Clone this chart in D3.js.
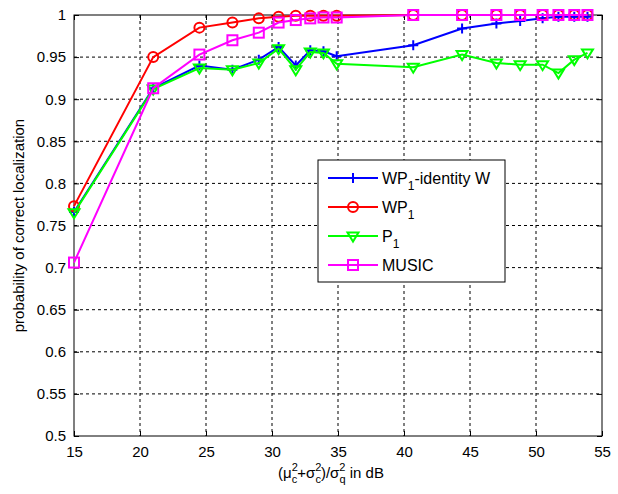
<!DOCTYPE html>
<html>
<head>
<meta charset="utf-8">
<script src="https://cdn.jsdelivr.net/npm/d3@7"></script>
<style>
  body { margin: 0; background: #fff; }
  text { font-family: "Liberation Sans", Arial, sans-serif; }
</style>
</head>
<body>
<script>
'use strict';

// SNR in dB (x axis) shared by all curves
var snr = [15, 21, 24.5, 27, 29, 30.5, 31.8, 32.9, 33.9, 34.9, 40.7, 44.4, 47, 48.8, 50.5, 51.7, 52.9, 53.9];

var wpIdentity = [0.766, 0.913, 0.940, 0.935, 0.947, 0.962, 0.940, 0.958, 0.957, 0.951, 0.964, 0.984, 0.990, 0.993, 0.996, 0.998, 0.998, 0.998];
var wp1        = [0.773, 0.950, 0.985, 0.991, 0.996, 0.998, 0.999, 0.999, 0.999, 0.999, 1, 1, 1, 1, 1, 1, 1, 1];
var p1         = [0.765, 0.912, 0.937, 0.935, 0.943, 0.960, 0.935, 0.956, 0.955, 0.942, 0.938, 0.953, 0.943, 0.941, 0.941, 0.931, 0.947, 0.955];
var music      = [0.706, 0.913, 0.953, 0.970, 0.979, 0.991, 0.994, 0.996, 0.997, 0.997, 1, 1, 1, 1, 1, 1, 1, 1];

var xTicks = [15, 20, 25, 30, 35, 40, 45, 50, 55];
var yTicks = [0.5, 0.55, 0.6, 0.65, 0.7, 0.75, 0.8, 0.85, 0.9, 0.95, 1];

var seriesNames = ['WP1-identity W', 'WP1', 'P1', 'MUSIC'];

var series = [
    {name: seriesNames[0], values: wpIdentity, color: '#0000ff', marker: 'plus'},
    {name: seriesNames[1], values: wp1, color: '#ff0000', marker: 'circle'},
    {name: seriesNames[2], values: p1, color: '#00ff00', marker: 'triangle'},
    {name: seriesNames[3], values: music, color: '#ff00ff', marker: 'square'}
];

var width = 618, height = 494;
var margin = {top: 15, right: 16, bottom: 58, left: 74};
var plotW = width - margin.left - margin.right;
var plotH = height - margin.top - margin.bottom;

var svg = d3.select('body').append('svg')
    .attr('width', width)
    .attr('height', height);

var g = svg.append('g')
    .attr('transform', 'translate(' + margin.left + ',' + margin.top + ')');

var x = d3.scaleLinear().domain([15, 55]).range([0, plotW]);
var y = d3.scaleLinear().domain([0.5, 1]).range([plotH, 0]);

g.append('rect')
    .attr('width', plotW).attr('height', plotH)
    .attr('fill', '#fff');

// dotted grid
g.append('g').selectAll('line')
    .data(xTicks.slice(1, -1))
    .enter().append('line')
    .attr('x1', function (d) { return x(d); })
    .attr('x2', function (d) { return x(d); })
    .attr('y1', 0).attr('y2', plotH)
    .attr('stroke', '#000').attr('stroke-width', 1)
    .attr('stroke-dasharray', '3,3');

g.append('g').selectAll('line')
    .data(yTicks.slice(1, -1))
    .enter().append('line')
    .attr('y1', function (d) { return y(d); })
    .attr('y2', function (d) { return y(d); })
    .attr('x1', 0).attr('x2', plotW)
    .attr('stroke', '#000').attr('stroke-width', 1)
    .attr('stroke-dasharray', '3,3');

// axes, ticks pointing inward
var fmtY = function (d) { return String(+d.toFixed(2)); };

var xAxis = g.append('g')
    .attr('transform', 'translate(0,' + plotH + ')')
    .call(d3.axisBottom(x).tickValues(xTicks).tickSizeInner(-5).tickSizeOuter(0).tickPadding(10));
var xAxisTop = g.append('g')
    .call(d3.axisTop(x).tickValues(xTicks).tickSizeInner(-5).tickSizeOuter(0).tickFormat(''));
var yAxis = g.append('g')
    .call(d3.axisLeft(y).tickValues(yTicks).tickSizeInner(-5).tickSizeOuter(0).tickPadding(8).tickFormat(fmtY));
var yAxisRight = g.append('g')
    .attr('transform', 'translate(' + plotW + ',0)')
    .call(d3.axisRight(y).tickValues(yTicks).tickSizeInner(-5).tickSizeOuter(0).tickFormat(''));

[xAxis, xAxisTop, yAxis, yAxisRight].forEach(function (a) {
    a.select('.domain').remove();
    a.selectAll('line').attr('stroke', '#000');
    a.selectAll('text')
        .attr('fill', '#000')
        .attr('font-size', '15px')
        .style('font-family', '"Liberation Sans", Arial, sans-serif');
});

g.append('rect')
    .attr('width', plotW).attr('height', plotH)
    .attr('fill', 'none').attr('stroke', '#000').attr('stroke-width', 1);

// marker drawing
function drawMarker(sel, type, color) {
    if (type === 'plus') {
        sel.append('path').attr('d', 'M-5,0H5M0,-5V5');
    } else if (type === 'circle') {
        sel.append('circle').attr('r', 5);
    } else if (type === 'triangle') {
        sel.append('path').attr('d', 'M-5.5,-3.5L5.5,-3.5L0,5.5Z');
    } else if (type === 'square') {
        sel.append('rect').attr('x', -5).attr('y', -5).attr('width', 10).attr('height', 10);
    }
    sel.selectAll('*')
        .attr('fill', 'none')
        .attr('stroke', color)
        .attr('stroke-width', 2);
}

var line = d3.line()
    .x(function (d) { return x(d[0]); })
    .y(function (d) { return y(d[1]); });

series.forEach(function (s) {
    var pts = d3.zip(snr, s.values);
    g.append('path')
        .datum(pts)
        .attr('d', line)
        .attr('fill', 'none')
        .attr('stroke', s.color)
        .attr('stroke-width', 2);
    g.append('g').selectAll('g')
        .data(pts)
        .enter().append('g')
        .attr('transform', function (d) { return 'translate(' + x(d[0]) + ',' + y(d[1]) + ')'; })
        .each(function () { drawMarker(d3.select(this), s.marker, s.color); });
});

// legend
var legend = svg.append('g').attr('transform', 'translate(318,160)');
legend.append('rect')
    .attr('width', 187).attr('height', 122)
    .attr('fill', '#fff').attr('stroke', '#000').attr('stroke-width', 1);

var rows = legend.selectAll('.row')
    .data(series)
    .enter().append('g')
    .attr('class', 'row')
    .attr('transform', function (d, i) { return 'translate(0,' + (18 + i * 29) + ')'; });

rows.append('line')
    .attr('x1', 10).attr('x2', 60)
    .attr('stroke', function (d) { return d.color; })
    .attr('stroke-width', 2);
rows.append('g')
    .attr('transform', 'translate(35,0)')
    .each(function (d) { drawMarker(d3.select(this), d.marker, d.color); });

rows.append('text')
    .attr('x', 64).attr('y', 6)
    .attr('font-size', '16px')
    .attr('fill', '#000')
    .each(function (d) {
        var t = d3.select(this);
        var m = d.name.match(/^(W?P)1(.*)$/);
        if (m) {
            t.append('tspan').text(m[1]);
            t.append('tspan').attr('dy', 6).attr('font-size', '12px').text('1');
            if (m[2]) t.append('tspan').attr('dy', -6).text(m[2]);
        } else {
            t.text(d.name);
        }
    });

// y label
svg.append('text')
    .attr('transform', 'translate(24,' + (margin.top + plotH / 2) + ') rotate(-90)')
    .attr('text-anchor', 'middle')
    .attr('font-size', '15px')
    .attr('fill', '#000')
    .text('probability of correct localization');

// x label with stacked super/subscripts
var xl = svg.append('text')
    .attr('x', 278).attr('y', 478)
    .attr('font-size', '15px')
    .attr('fill', '#000');
var parts = [['(μ', 'c'], ['+σ', 'c'], [')/σ', 'q']];
parts.forEach(function (p, i) {
    xl.append('tspan').attr('dy', i === 0 ? 0 : -5).text(p[0]);
    xl.append('tspan').attr('dy', -7).attr('font-size', '11px').text('2');
    xl.append('tspan').attr('dx', -6).attr('dy', 12).attr('font-size', '11px').text(p[1]);
});
xl.append('tspan').attr('dy', -5).text(' in dB');
</script>
</body>
</html>
